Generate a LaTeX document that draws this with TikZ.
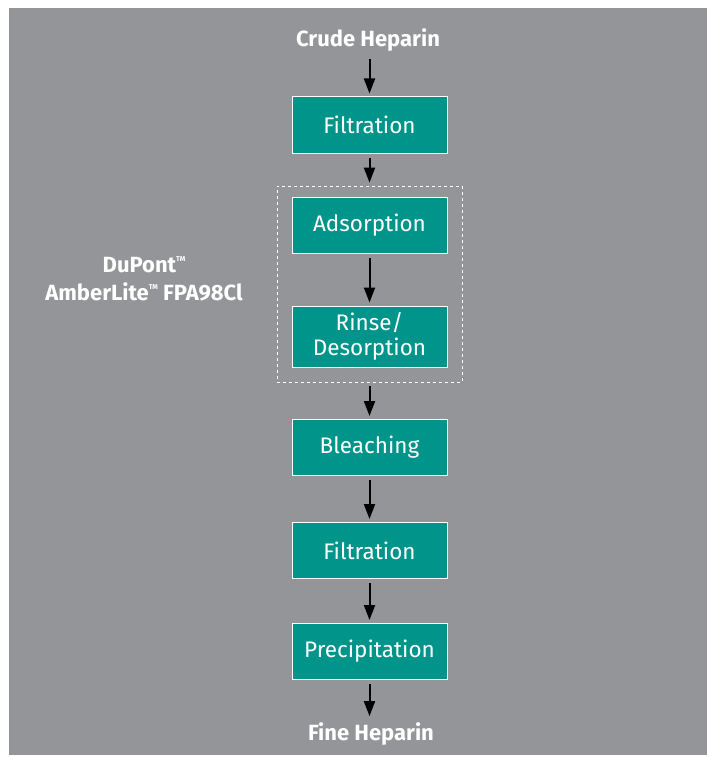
\documentclass[tikz,border=0pt]{standalone}
\usepackage{fontspec}
\setmainfont{Fira Sans}
\usetikzlibrary{positioning,arrows.meta}
\definecolor{bggray}{RGB}{147,149,152}
\definecolor{dpteal}{RGB}{0,148,138}
\newcommand{\tm}{\raisebox{0.5em}{\fontsize{7}{7}\selectfont TM}}

\begin{document}
\begin{tikzpicture}[x=1pt,y=-1pt,
    stepbox/.style={
        draw=white,
        line width=1pt,
        fill=dpteal,
        text=white,
        minimum width=155pt,
        minimum height=56pt,
        align=center,
        font=\fontsize{22.5}{25}\selectfont
    },
    label/.style={
        draw=none,
        text=white,
        align=center,
        font=\fontsize{22}{28}\selectfont\bfseries
    },
    flow/.style={
        -{Triangle[length=15pt,width=11pt]},
        line width=2pt,
        shorten <=4pt,
        shorten >=3pt
    }
    ]

    \useasboundingbox (0,0) rectangle (710,757);
    \fill[bggray] (9,8) rectangle (707,755);

    \node[label] (crude) at (368,40) {Crude Heparin};
    \node[stepbox] (filt_1) at (369.5,125) {Filtration};
    \node[draw=white, dashed, line width=0.8pt, minimum width=185pt, minimum height=196pt] (resin) at (369.5,284) {};
    \node[stepbox] (adsorb) at (369.5,225) {Adsorption};
    \node[stepbox, minimum height=61pt] (rinse) at (369.5,336.5) {Rinse/\\Desorption};
    \node[stepbox] (bleach) at (369.5,447.5) {Bleaching};
    \node[stepbox] (filt_2) at (369.5,550.5) {Filtration};
    \node[stepbox] (precip) at (369.5,651.5) {Precipitation};
    \node[label] (fine) at (371,734) {Fine Heparin};
    \node[label] (resin_name) at (144,279) {DuPont\tm\\AmberLite\tm{} FPA98Cl};

    \draw[flow] (crude.south -| filt_1.north) -- (filt_1);
    \draw[flow] (filt_1) -- (resin);
    \draw[flow] (adsorb) -- (rinse);
    \draw[flow] (resin) -- (bleach);
    \draw[flow] (bleach) -- (filt_2);
    \draw[flow] (filt_2) -- (precip);
    \draw[flow] (precip) -- (fine.north -| precip.south);
\end{tikzpicture}
\end{document}
